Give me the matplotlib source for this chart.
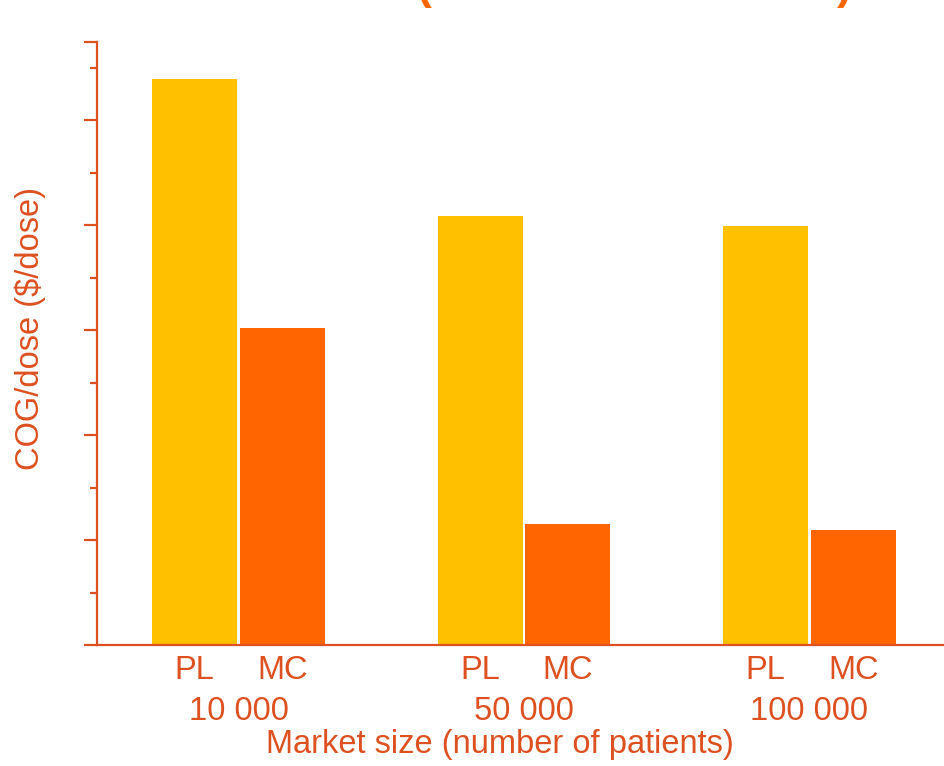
import matplotlib
matplotlib.use("Agg")
import matplotlib.pyplot as plt
import matplotlib.transforms as mtransforms
import numpy as np

# cost of goods per dose, PL vs MC, for three market sizes
market_sizes = ["10 000", "50 000", "100 000"]
series_names = ["PL", "MC"]
pl_cost = [5.39, 4.09, 3.99]
mc_cost = [3.02, 1.15, 1.10]

plt.rcParams['font.family'] = ['Liberation Sans', 'DejaVu Sans']

axis_col = "#DD5020"
text_col = "#DD5020"
pl_col = "#FFC000"
mc_col = "#FF6600"
fs = 23.5

W, H = 945, 766
fig = plt.figure(figsize=(W / 100, H / 100), dpi=100)
ax = fig.add_axes([97 / W, (H - 645) / H, (W - 97) / W, (645 - 42) / H])

x = np.arange(len(market_sizes))
bw = 0.298
step = 0.308
ax.bar(x - step / 2, pl_cost, width=bw, color=pl_col, edgecolor="none")
ax.bar(x + step / 2, mc_cost, width=bw, color=mc_col, edgecolor="none")

ytop = 5.743
ax.set_ylim(0, ytop)
ax.set_xlim(-0.496, 2.475)

for s in ["top", "right"]:
    ax.spines[s].set_visible(False)
for s in ["left", "bottom"]:
    ax.spines[s].set_color(axis_col)
    ax.spines[s].set_linewidth(1.6)

ax.set_yticks(list(range(6)) + [ytop])
ax.set_yticks(np.arange(0.5, 5.6, 1.0), minor=True)
ax.set_yticklabels([])
ax.tick_params(axis="y", which="major", direction="out", length=9.5, width=1.6, color=axis_col)
ax.tick_params(axis="y", which="minor", direction="out", length=5, width=1.6, color=axis_col)

# series names under each bar
pos = np.concatenate([x - step / 2, x + step / 2])
names = [series_names[0]] * len(x) + [series_names[1]] * len(x)
ax.set_xticks(pos)
ax.set_xticklabels(names, fontsize=fs, color=text_col)
ax.tick_params(axis="x", length=0, pad=7)

# market size under each group
trans = mtransforms.blended_transform_factory(ax.transData, fig.transFigure)
for xi, lab in zip(x, market_sizes):
    ax.text(xi, (H - 712) / H, lab, transform=trans, ha="center", va="center",
            fontsize=fs, color=text_col)

fig.text(500 / W, (H - 745) / H, "Market size (number of patients)", ha="center", va="center",
         fontsize=fs, color=text_col)
fig.text(30 / W, (H - 328) / H, "COG/dose ($/dose)", ha="center", va="center",
         rotation=90, fontsize=fs, color=text_col)

# title sits mostly above the canvas, only the brackets show
fig.text(424 / W, (H + 1) / H, "(", ha="center", va="baseline", fontsize=32,
         fontweight="bold", color=mc_col)
fig.text(844 / W, (H + 1) / H, ")", ha="center", va="baseline", fontsize=32,
         fontweight="bold", color=mc_col)

fig.savefig("out.png", dpi=100)
